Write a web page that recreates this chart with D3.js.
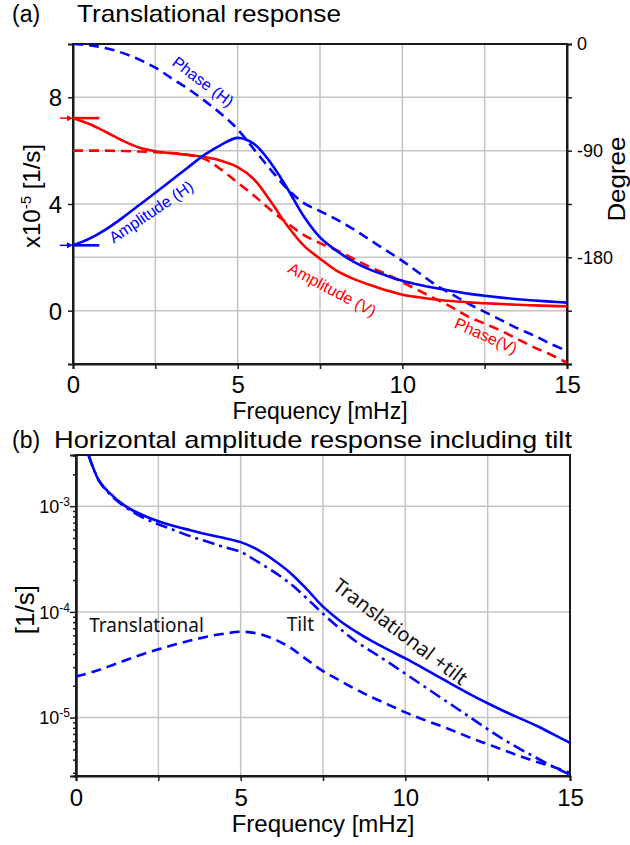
<!DOCTYPE html>
<html><head><meta charset="utf-8">
<script src="https://cdn.jsdelivr.net/npm/d3@7/dist/d3.min.js"></script>
<style>body{margin:0;background:#fff}svg{display:block}</style>
</head><body>
<svg id="c" width="630" height="845"></svg>
<script>
// ---------------- DATA ----------------
// (a) Translational response, frequency in mHz
const freq = [0,0.5,1,1.5,2,2.5,3,3.5,4,4.5,5,5.5,6,6.5,7,7.5,8,8.5,9,9.5,10,10.5,11,11.5,12,12.5,13,13.5,14,14.5,15];
// amplitudes in x1e-5 [1/s]
const ampH = [2.45,2.70,3.05,3.48,3.95,4.42,4.90,5.38,5.85,6.22,6.48,6.25,5.55,4.60,3.55,2.75,2.25,1.85,1.55,1.32,1.12,0.97,0.85,0.74,0.64,0.56,0.49,0.43,0.38,0.34,0.30];
const ampV = [7.22,7.00,6.70,6.38,6.12,5.98,5.90,5.84,5.76,5.62,5.38,4.92,4.10,3.20,2.45,1.95,1.50,1.20,0.97,0.77,0.60,0.50,0.42,0.36,0.31,0.28,0.25,0.22,0.20,0.18,0.16];
// phases in degrees
const phaseH = [0,-1,-3.5,-7.5,-13,-20,-29,-38,-48,-59,-72,-89,-106,-122,-134,-141,-148,-156,-165,-174,-183,-193,-203,-211,-219,-226,-233,-240,-246,-253,-259];
const phaseV = [-90,-90,-90,-90.3,-90.7,-91.2,-92,-93.5,-97,-106,-117,-128,-140,-151,-161,-168,-174,-181,-188,-194,-201,-208,-215,-222,-230,-236,-242,-249,-256,-262,-269];
// reference levels at f=0 (arrows)
const refLevels = [{v:7.22,c:"#ff0000"},{v:2.45,c:"#0000ff"}];

// (b) Horizontal amplitude response including tilt [1/s]
const freqB = [0.38,0.5,0.7,1,1.5,2,2.5,3,3.5,4,4.5,5,5.5,6,6.5,7,7.5,8,8.5,9,9.5,10,10.5,11,11.5,12,12.5,13,13.5,14,14.5,15];
const totalB = [3.05e-3,2.4e-3,1.74e-3,1.35e-3,1.0e-3,8.3e-4,7.2e-4,6.45e-4,5.9e-4,5.4e-4,5.0e-4,4.57e-4,3.9e-4,3.1e-4,2.35e-4,1.65e-4,1.12e-4,8.3e-5,6.5e-5,5.25e-5,4.35e-5,3.63e-5,2.985e-5,2.443e-5,1.995e-5,1.64e-5,1.365e-5,1.148e-5,9.77e-6,8.32e-6,6.92e-6,5.75e-6];
const tiltB = [3.05e-3,2.4e-3,1.74e-3,1.32e-3,9.8e-4,7.9e-4,6.75e-4,5.9e-4,5.15e-4,4.6e-4,4.1e-4,3.7e-4,3.0e-4,2.4e-4,1.86e-4,1.35e-4,9.6e-5,7.0e-5,5.25e-5,4.17e-5,3.31e-5,2.6e-5,2.04e-5,1.6e-5,1.26e-5,9.9e-6,7.76e-6,6.17e-6,5.01e-6,4.12e-6,3.43e-6,2.88e-6];
const transScale = 1e-5; // translational curve = ampH x 1e-5

// ticks
const xTicks = [0,2.5,5,7.5,10,12.5,15];
const xLabels = [0,5,10,15];
const yTicksA = [0,4,8];
const yGridA = [-2,0,2,4,6,8,10];
const degTicks = [0,-45,-90,-135,-180,-225,-270];
const degLabels = [0,-90,-180];
const logMajor = [-3,-4,-5];

// ---------------- DRAW ----------------
const svg = d3.select("#c");
const FONT = "'Liberation Sans', Arial, Helvetica, sans-serif";
const FONT2 = "'Noto Sans', 'DejaVu Sans', sans-serif";
const BLUE = "#0000ff", RED = "#ff0000", GRID = "#c4c4c4", AX = "#1a1a1a";

// ===== Panel (a) =====
const A = {l:73, r:567, t:44, b:364};
const xa = d3.scaleLinear().domain([0,15]).range([A.l,A.r]);
const ya = d3.scaleLinear().domain([-2,10]).range([A.b,A.t]);
const yd = d3.scaleLinear().domain([-270,0]).range([A.b,A.t]);

const ga = svg.append("g");
ga.selectAll(".vg").data(xTicks).join("line").attr("x1",d=>xa(d)).attr("x2",d=>xa(d)).attr("y1",A.t).attr("y2",A.b).attr("stroke",GRID).attr("stroke-width",1.5);
ga.selectAll(".hg").data(yGridA).join("line").attr("y1",d=>ya(d)).attr("y2",d=>ya(d)).attr("x1",A.l).attr("x2",A.r).attr("stroke",GRID).attr("stroke-width",1.5);

function styleAxis(g, fs){
  g.selectAll("path").attr("stroke",AX).attr("stroke-width",2);
  g.selectAll("line").attr("stroke",AX).attr("stroke-width",1.5);
  g.selectAll("text").attr("font-family",FONT).attr("font-size",fs).attr("fill","#000");
}
const gxa = ga.append("g").attr("transform",`translate(0,${A.b})`)
  .call(d3.axisBottom(xa).tickValues(xTicks).tickSize(5).tickPadding(7).tickFormat(d=>xLabels.includes(d)?d:""));
styleAxis(gxa,24);
const gya = ga.append("g").attr("transform",`translate(${A.l},0)`)
  .call(d3.axisLeft(ya).tickValues(yTicksA).tickSize(5).tickPadding(6));
styleAxis(gya,24);
gya.selectAll("text").attr("dy","0.36em");
const gyd = ga.append("g").attr("transform",`translate(${A.r},0)`)
  .call(d3.axisRight(yd).tickValues(degTicks).tickSize(5).tickPadding(5).tickFormat(d=>degLabels.includes(d)?d:""));
styleAxis(gyd,18);
ga.append("rect").attr("x",A.l).attr("y",A.t).attr("width",A.r-A.l).attr("height",A.b-A.t).attr("fill","none").attr("stroke",AX).attr("stroke-width",2);

const lineA = d3.line().x(d=>xa(d[0])).y(d=>ya(d[1])).curve(d3.curveCatmullRom);
const lineD = d3.line().x(d=>xa(d[0])).y(d=>yd(d[1])).curve(d3.curveCatmullRom);
svg.append("clipPath").attr("id","clipA").append("rect").attr("x",A.l).attr("y",A.t).attr("width",A.r-A.l).attr("height",A.b-A.t);
const curvesA = ga.append("g").attr("clip-path","url(#clipA)");
curvesA.append("path").attr("d",lineD(d3.zip(freq,phaseH))).attr("fill","none").attr("stroke",BLUE).attr("stroke-width",2.6).attr("stroke-dasharray","10,6");
curvesA.append("path").attr("d",lineD(d3.zip(freq,phaseV))).attr("fill","none").attr("stroke",RED).attr("stroke-width",2.6).attr("stroke-dasharray","10,6");
curvesA.append("path").attr("d",lineA(d3.zip(freq,ampV))).attr("fill","none").attr("stroke",RED).attr("stroke-width",2.6);
curvesA.append("path").attr("d",lineA(d3.zip(freq,ampH))).attr("fill","none").attr("stroke",BLUE).attr("stroke-width",2.6);

refLevels.forEach(r=>{
  const y = ya(r.v);
  ga.append("line").attr("x1",xa(0)).attr("x2",xa(0.8)).attr("y1",y).attr("y2",y).attr("stroke",r.c).attr("stroke-width",2.6);
  ga.append("line").attr("x1",xa(0)-13).attr("x2",xa(0)-4).attr("y1",y).attr("y2",y).attr("stroke",r.c).attr("stroke-width",1.5);
  ga.append("path").attr("d",`M${xa(0)},${y} L${xa(0)-6},${y-3} L${xa(0)-6},${y+3} Z`).attr("fill",r.c);
});

const labA = [
  {t:"Phase (H)", f:3.95, v:8.59, rot:37, c:BLUE},
  {t:"Amplitude (H)", f:2.37, v:3.71, rot:-34, c:BLUE},
  {t:"Amplitude (V)", f:7.87, v:0.79, rot:28, c:RED},
  {t:"Phase(V)", f:12.54, v:-0.94, rot:24, c:RED}
];
labA.forEach(L=>{
  ga.append("text").attr("transform",`translate(${xa(L.f)},${ya(L.v)}) rotate(${L.rot})`)
    .attr("text-anchor","middle").attr("dy","0.35em").attr("font-family",FONT).attr("font-size",16).attr("fill",L.c).text(L.t);
});

svg.append("text").attr("x",12).attr("y",22).attr("font-family",FONT).attr("font-size",23).text("(a)");
svg.append("text").attr("x",77).attr("y",22).attr("font-family",FONT).attr("font-size",24)
  .attr("textLength",264).attr("lengthAdjust","spacingAndGlyphs").text("Translational response");
svg.append("text").attr("x",(A.l+A.r)/2).attr("y",419).attr("text-anchor","middle").attr("font-family",FONT).attr("font-size",23).text("Frequency [mHz]");
const yl = svg.append("text").attr("transform",`translate(40,${ya(4.3)}) rotate(-90)`).attr("text-anchor","middle").attr("font-family",FONT).attr("font-size",24);
yl.append("tspan").text("x10");
yl.append("tspan").attr("dy",-9).attr("font-size",15).text("-5");
yl.append("tspan").attr("dy",9).text(" [1/s]");
svg.append("text").attr("transform",`translate(625,${yd(-114)}) rotate(-90)`).attr("text-anchor","middle").attr("font-family",FONT).attr("font-size",24)
  .attr("textLength",85).attr("lengthAdjust","spacingAndGlyphs").text("Degree");

// ===== Panel (b) =====
const B = {l:76, r:570, t:455, b:776};
const xb = d3.scaleLinear().domain([0,15]).range([B.l,B.r]);
const yb = d3.scaleLog().domain([2.8e-6,3.05e-3]).range([B.b,B.t]);
const gb = svg.append("g");
gb.selectAll(".vg").data(xTicks).join("line").attr("x1",d=>xb(d)).attr("x2",d=>xb(d)).attr("y1",B.t).attr("y2",B.b).attr("stroke",GRID).attr("stroke-width",1.5);
gb.selectAll(".hg").data(logMajor).join("line").attr("y1",d=>yb(Math.pow(10,d))).attr("y2",d=>yb(Math.pow(10,d))).attr("x1",B.l).attr("x2",B.r).attr("stroke",GRID).attr("stroke-width",1.5);

const gxb = gb.append("g").attr("transform",`translate(0,${B.b})`)
  .call(d3.axisBottom(xb).tickValues(xTicks).tickSize(5).tickPadding(8).tickFormat(d=>xLabels.includes(d)?d:""));
styleAxis(gxb,24);
const minorVals = [];
[-6,-5,-4,-3].forEach(e=>{for(let m=2;m<=9;m++){const v=m*Math.pow(10,e); if(v>=2.8e-6 && v<=3.05e-3) minorVals.push(v);}});
const gyb = gb.append("g").attr("transform",`translate(${B.l},0)`)
  .call(d3.axisLeft(yb).tickValues(minorVals).tickSize(3).tickFormat(""));
styleAxis(gyb,16);
const gyb2 = gb.append("g").attr("transform",`translate(${B.l},0)`)
  .call(d3.axisLeft(yb).tickValues(logMajor.map(e=>Math.pow(10,e))).tickSize(6).tickFormat(""));
styleAxis(gyb2,16);
logMajor.forEach(e=>{
  const t = gb.append("text").attr("x",B.l-6).attr("y",yb(Math.pow(10,e))).attr("dy","0.38em").attr("text-anchor","end").attr("font-family",FONT).attr("font-size",18);
  t.append("tspan").text("10");
  t.append("tspan").attr("dy",-7).attr("font-size",12).text(String(e));
});
gb.append("rect").attr("x",B.l).attr("y",B.t).attr("width",B.r-B.l).attr("height",B.b-B.t).attr("fill","none").attr("stroke",AX).attr("stroke-width",2);

svg.append("clipPath").attr("id","clipB").append("rect").attr("x",B.l).attr("y",B.t).attr("width",B.r-B.l).attr("height",B.b-B.t);
const curvesB = gb.append("g").attr("clip-path","url(#clipB)");
const lineB = d3.line().x(d=>xb(d[0])).y(d=>yb(d[1])).curve(d3.curveCatmullRom);
curvesB.append("path").attr("d",lineB(d3.zip(freq,ampH.map(v=>v*transScale)))).attr("fill","none").attr("stroke",BLUE).attr("stroke-width",2.6).attr("stroke-dasharray","10,6");
curvesB.append("path").attr("d",lineB(d3.zip(freqB,tiltB))).attr("fill","none").attr("stroke",BLUE).attr("stroke-width",2.6).attr("stroke-dasharray","12,5,3,5");
curvesB.append("path").attr("d",lineB(d3.zip(freqB,totalB))).attr("fill","none").attr("stroke",BLUE).attr("stroke-width",2.6);

const labB = [
  {t:"Translational", f:0.4, v:6.45e-5, rot:0, anchor:"start", dy:"0", fs:19},
  {t:"Tilt", f:6.4, v:6.6e-5, rot:0, anchor:"start", dy:"0", fs:19},
  {t:"Translational +tilt", f:9.85, v:6.5e-5, rot:37, anchor:"middle", dy:"0.35em", fs:20}
];
labB.forEach(L=>{
  gb.append("text").attr("transform",`translate(${xb(L.f)},${yb(L.v)}) rotate(${L.rot})`)
    .attr("text-anchor",L.anchor).attr("dy",L.dy).attr("font-family",FONT2).attr("font-size",L.fs).attr("fill","#111").text(L.t);
});

svg.append("text").attr("x",12).attr("y",448).attr("font-family",FONT).attr("font-size",23).text("(b)");
svg.append("text").attr("x",54).attr("y",448).attr("font-family",FONT).attr("font-size",24)
  .attr("textLength",518).attr("lengthAdjust","spacingAndGlyphs").text("Horizontal amplitude response including tilt");
svg.append("text").attr("x",(B.l+B.r)/2).attr("y",832).attr("text-anchor","middle").attr("font-family",FONT).attr("font-size",24).text("Frequency [mHz]");
svg.append("text").attr("transform",`translate(34,${yb(1.05e-4)}) rotate(-90)`).attr("text-anchor","middle").attr("font-family",FONT).attr("font-size",26).text("[1/s]");
</script>
</body></html>
